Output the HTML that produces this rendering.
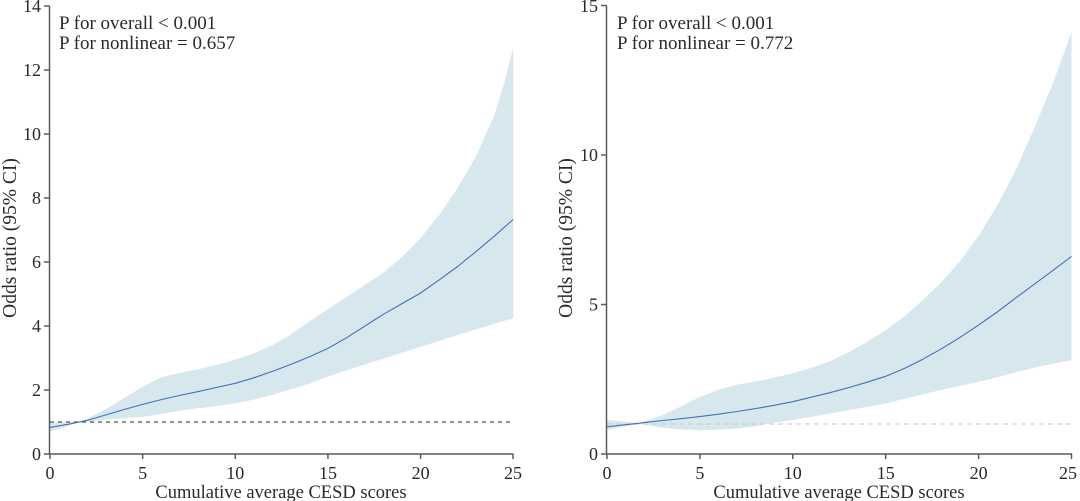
<!DOCTYPE html>
<html><head><meta charset="utf-8"><style>
html,body{margin:0;padding:0;background:#fff;}
svg{display:block;}
text{font-family:"Liberation Serif","Times New Roman",serif;fill:#2a2a2a;}
</style></head><body>
<svg width="1080" height="501" viewBox="0 0 1080 501" xmlns="http://www.w3.org/2000/svg">
<rect width="1080" height="501" fill="#fff"/>

<!-- LEFT PANEL -->
<polygon fill="#d7e7ee" points="50,422.6 68.53,421.7 77.8,422 87.06,418.8 105.59,409.2 124.12,398 142.65,386.8 161.18,377.2 179.71,373 198.24,369.2 216.77,365 235.3,359.6 253.83,353.2 272.36,345.2 290.89,334.5 309.42,321.5 327.95,309 346.48,297 365.01,285 383.54,272.5 402.07,257 420.6,238 439.13,215 457.66,188 476.19,156 494.72,114 504,84 513.25,47.6 513.25,318.3 494.72,323.8 476.19,329.2 457.66,335 439.13,341 420.6,346.8 402.07,352.6 383.54,358.6 365.01,364.4 346.48,370.2 327.95,376.6 309.42,383.6 290.89,389.4 272.36,394.8 253.83,399.6 235.3,403.4 216.77,406 198.24,408.2 179.71,410.8 161.18,414 142.65,416.9 124.12,418.2 105.59,419.8 87.06,422 77.8,422.6 68.53,425.8 50,431.6"/>
<line x1="50" y1="422" x2="513" y2="422" stroke="#555" stroke-width="1.2" stroke-dasharray="4,4"/>
<polyline fill="none" stroke="#4472b4" stroke-width="1.1" stroke-linejoin="round" points="50,427.4 68.53,424.2 87.06,420.4 105.59,415 124.12,409.5 142.65,404.4 161.18,399.6 179.71,395.4 198.24,391.6 216.77,387.4 235.3,383.3 253.83,377.8 272.36,371.4 290.89,364.4 309.42,356.7 327.95,348.4 346.48,337.8 365.01,326 383.54,314.2 402.07,303.6 420.6,293 439.13,279.9 457.66,266.5 476.19,251.4 494.72,235.8 513.25,219.4"/>
<!-- axes -->
<g stroke="#5a5a5a" stroke-width="1.5" fill="none">
<line x1="49.5" y1="6" x2="49.5" y2="454.5"/>
<line x1="49" y1="454" x2="513.5" y2="454"/>
<line x1="44" y1="6" x2="49.5" y2="6"/>
<line x1="44" y1="70" x2="49.5" y2="70"/>
<line x1="44" y1="134" x2="49.5" y2="134"/>
<line x1="44" y1="198" x2="49.5" y2="198"/>
<line x1="44" y1="262" x2="49.5" y2="262"/>
<line x1="44" y1="326" x2="49.5" y2="326"/>
<line x1="44" y1="390" x2="49.5" y2="390"/>
<line x1="44" y1="454" x2="49.5" y2="454"/>
<line x1="50" y1="454" x2="50" y2="459"/>
<line x1="142.65" y1="454" x2="142.65" y2="459"/>
<line x1="235.3" y1="454" x2="235.3" y2="459"/>
<line x1="327.95" y1="454" x2="327.95" y2="459"/>
<line x1="420.6" y1="454" x2="420.6" y2="459"/>
<line x1="513" y1="454" x2="513" y2="459"/>
</g>
<g font-size="18" text-anchor="end">
<text x="41" y="12">14</text>
<text x="41" y="76">12</text>
<text x="41" y="140">10</text>
<text x="41" y="204">8</text>
<text x="41" y="268">6</text>
<text x="41" y="332">4</text>
<text x="41" y="396">2</text>
<text x="41" y="460">0</text>
</g>
<g font-size="18" text-anchor="middle">
<text x="50" y="479">0</text>
<text x="142.65" y="479">5</text>
<text x="235.3" y="479">10</text>
<text x="327.95" y="479">15</text>
<text x="420.6" y="479">20</text>
<text x="513" y="479">25</text>
</g>
<g text-anchor="middle">
<text x="281" y="498" font-size="18.5">Cumulative average CESD scores</text>
<text transform="translate(16,238) rotate(-90)" font-size="19.5">Odds ratio (95% CI)</text>
</g>
<g font-size="19">
<text x="59" y="29">P for overall &lt; 0.001</text>
<text x="59" y="49">P for nonlinear = 0.657</text>
</g>

<!-- RIGHT PANEL -->
<polygon fill="#d7e7ee" points="607,419.9 625.58,421.7 640.4,423.2 644.16,421.7 662.74,415.1 681.32,406.2 699.9,396.9 718.48,389.7 737.06,384.6 755.64,381.6 774.22,377.8 792.8,373.3 811.38,367.9 829.96,361.3 848.54,352.3 867.12,341.9 885.7,330.2 904.28,316.5 922.86,300 941.44,282.1 960.02,261.1 978.6,235.7 997.18,205.8 1015.76,170 1034.34,128.1 1052.92,83.2 1071.5,32.4 1071.5,360.1 1052.92,363.7 1034.34,367.6 1015.76,372.4 997.18,377.2 978.6,381.9 960.02,385.8 941.44,390 922.86,394.2 904.28,398.7 885.7,403.5 867.12,406.8 848.54,410.3 829.96,413.6 811.38,416.9 792.8,419.9 774.22,422.6 755.64,426.2 737.06,428.6 718.48,429.8 699.9,430.1 681.32,429.5 662.74,427.7 644.16,424.7 640.4,424.1 625.58,426.2 607,430.1"/>
<line x1="607" y1="424" x2="1071" y2="424" stroke="#c8c8c8" stroke-width="1.1" stroke-dasharray="5,4"/>
<polyline fill="none" stroke="#4472b4" stroke-width="1.1" stroke-linejoin="round" points="607,426.8 625.58,424.7 644.16,422.6 662.74,420.5 681.32,418.7 699.9,416.6 718.48,414.2 737.06,411.5 755.64,408.6 774.22,405.3 792.8,401.7 811.38,397.2 829.96,392.7 848.54,387.6 867.12,382.2 885.7,376.3 904.28,368.5 922.86,359.2 941.44,348.8 960.02,337.4 978.6,325.1 997.18,312 1015.76,297.9 1034.34,284.2 1052.92,270.4 1071.5,256.4"/>
<g stroke="#5a5a5a" stroke-width="1.5" fill="none">
<line x1="606.5" y1="5.5" x2="606.5" y2="454.5"/>
<line x1="606" y1="454" x2="1072" y2="454"/>
<line x1="601" y1="5.5" x2="606.5" y2="5.5"/>
<line x1="601" y1="155" x2="606.5" y2="155"/>
<line x1="601" y1="304.5" x2="606.5" y2="304.5"/>
<line x1="601" y1="454" x2="606.5" y2="454"/>
<line x1="607" y1="454" x2="607" y2="459"/>
<line x1="699.9" y1="454" x2="699.9" y2="459"/>
<line x1="792.8" y1="454" x2="792.8" y2="459"/>
<line x1="885.7" y1="454" x2="885.7" y2="459"/>
<line x1="978.6" y1="454" x2="978.6" y2="459"/>
<line x1="1071.5" y1="454" x2="1071.5" y2="459"/>
</g>
<g font-size="18" text-anchor="end">
<text x="598" y="12">15</text>
<text x="598" y="161">10</text>
<text x="598" y="310.5">5</text>
<text x="598" y="460">0</text>
</g>
<g font-size="18" text-anchor="middle">
<text x="607" y="479">0</text>
<text x="699.9" y="479">5</text>
<text x="792.8" y="479">10</text>
<text x="885.7" y="479">15</text>
<text x="978.6" y="479">20</text>
<text x="1068" y="479">25</text>
</g>
<g text-anchor="middle">
<text x="839" y="498" font-size="18.5">Cumulative average CESD scores</text>
<text transform="translate(572,238) rotate(-90)" font-size="19.5">Odds ratio (95% CI)</text>
</g>
<g font-size="19">
<text x="617" y="29">P for overall &lt; 0.001</text>
<text x="617" y="49">P for nonlinear = 0.772</text>
</g>
</svg>
</body></html>
